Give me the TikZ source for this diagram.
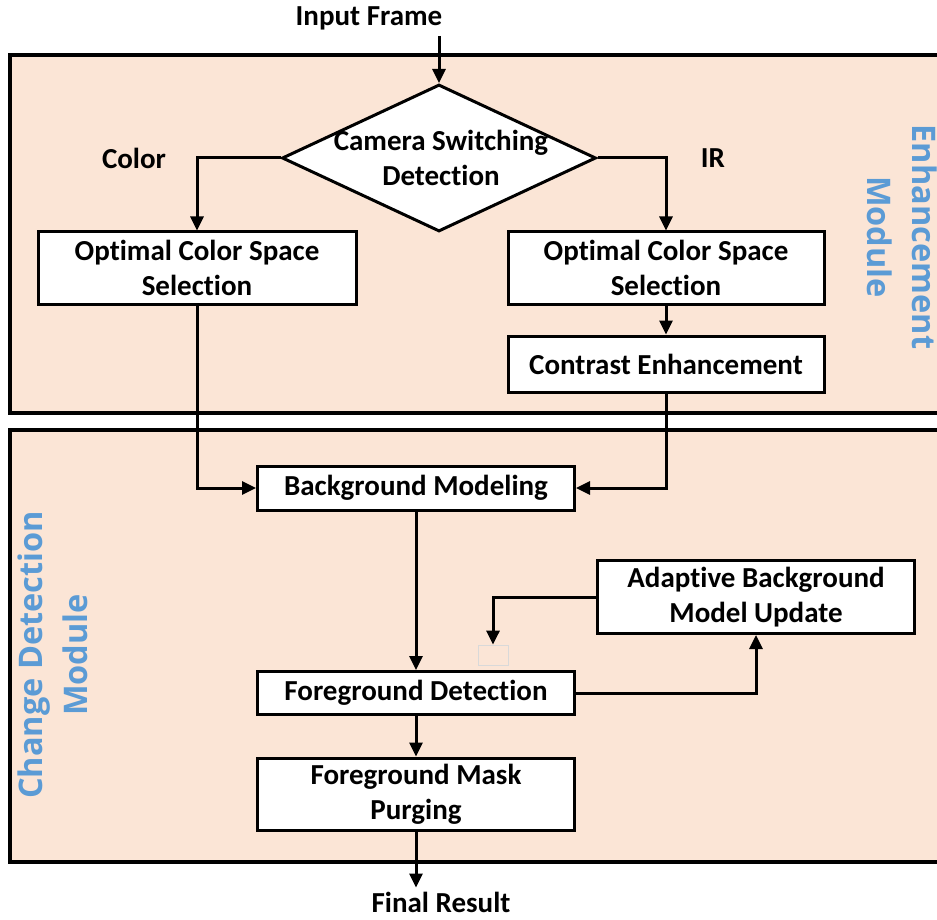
\documentclass[tikz,border=0pt]{standalone}
\usepackage{fontspec}
\setmainfont{Carlito}[Ligatures=NoCommon]
\newfontfamily\modfont{Open Sans}
\usetikzlibrary{arrows.meta,shapes.geometric}
\definecolor{modfill}{HTML}{FBE5D6}
\definecolor{modblue}{HTML}{5B9BD5}
\tikzset{
  module/.style={draw=black, line width=4.5pt, fill=modfill},
  stepbox/.style={draw=black, line width=3pt, fill=white, align=center, inner sep=0pt,
    font=\bfseries\fontsize{29}{35}\selectfont},
  flow/.style={line width=3pt, -{Triangle[length=14pt,width=13pt]}},
  plain/.style={font=\bfseries\fontsize{29}{35}\selectfont, align=center, inner sep=0pt},
  modlabel/.style={font=\modfont\bfseries\fontsize{32.5}{45}\selectfont, text=modblue, align=center, inner sep=0pt}
}
\begin{document}
\begin{tikzpicture}[x=1pt,y=-1pt]
\useasboundingbox (0,0) rectangle (937,920);
\clip (0,0) rectangle (937,920);

% module frames (open to the right)
\draw[module] (10,55) rectangle (960,413);
\draw[module] (10,430) rectangle (960,862);

\node[modlabel, rotate=-90] (enhlab) at (902,237) {Enhancement\\Module};
\node[modlabel, rotate=90] (cdlab) at (53,655) {Change Detection\\Module};

% input and decision
\node[plain] (inp) at (369,18) {Input Frame};
\node[diamond, draw=black, line width=3pt, fill=white, minimum width=314pt,
      minimum height=147pt, inner sep=0pt] (cs) at (439,158) {};
\node[plain] (cstext) at (441,158) {Camera Switching\\Detection};
\node[plain] (colorlab) at (134,158) {Color};
\node[plain] (irlab) at (713,158) {IR};

% processing steps
\node[stepbox, minimum width=318pt, minimum height=72pt] (ocsL) at (197,268) {Optimal Color Space\\Selection};
\node[stepbox, minimum width=316pt, minimum height=72pt] (ocsR) at (666,268) {Optimal Color Space\\Selection};
\node[stepbox, minimum width=316pt, minimum height=56pt] (ce) at (666,364) {Contrast Enhancement};
\node[stepbox, minimum width=317pt, minimum height=44pt] (bgm) at (416,488) {Background Modeling};
\node[stepbox, minimum width=317pt, minimum height=73pt] (abmu) at (756,597) {Adaptive Background\\Model Update};
\node[stepbox, minimum width=317pt, minimum height=43pt] (fgd) at (416,693) {Foreground Detection};
\node[stepbox, minimum width=317pt, minimum height=72pt] (fmp) at (416,794) {Foreground Mask\\Purging};
\node[draw=gray!30, line width=0.8pt, minimum width=30pt, minimum height=20pt, inner sep=0pt] (mark) at (493,655) {};
\node[plain] (res) at (441,902) {Final Result};

% connectors
\draw[flow] ([yshift=-6pt]cs.north |- inp.south) -- (cs.north);
\draw[flow] (cs.west) -| (ocsL.north);
\draw[flow] (cs.east) -| (ocsR.north);
\draw[flow] (ocsR.south) -- (ce.north);
\draw[flow] (ocsL.south) |- (bgm.west);
\draw[flow] (ce.south) |- (bgm.east);
\draw[flow] (bgm.south) -- (fgd.north);
\draw[flow] (fgd.east) -| (abmu.south);
\draw[flow] (abmu.west) -| (mark.north);
\draw[flow] (fgd.south) -- (fmp.north);
\draw[flow] (fmp.south) -- ([yshift=4pt]fmp.south |- res.north);
\end{tikzpicture}
\end{document}
